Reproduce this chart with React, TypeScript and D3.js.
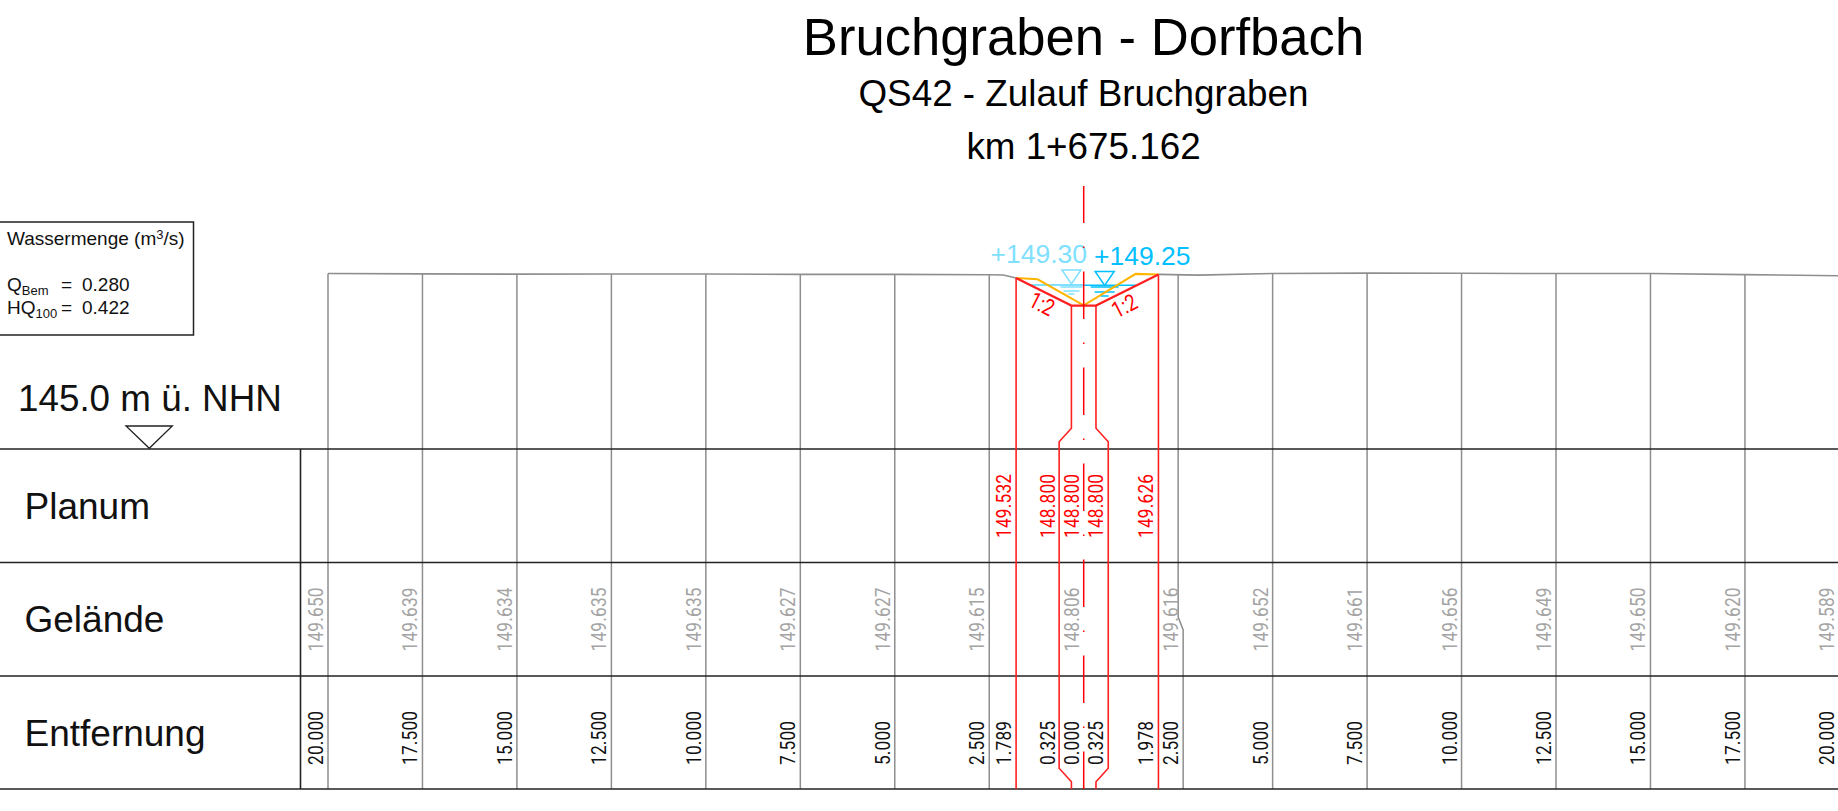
import React from "react";
import * as d3 from "d3";

// stations (m from axis) and terrain heights read from the Gelände row
const leftStations = [-20, -17.5, -15, -12.5, -10, -7.5, -5, -2.5];
const rightStations = [2.5, 5, 7.5, 10, 12.5, 15, 17.5, 20];
const leftGround = [149.65, 149.639, 149.634, 149.635, 149.635, 149.627, 149.627, 149.615];
const rightGround = [149.616, 149.652, 149.661, 149.656, 149.649, 149.65, 149.62, 149.589];

// extra terrain break points next to the ditch
const groundBreakLeft: [number, number][] = [[-2.13, 149.609], [-1.789, 149.532]];
const groundBreakRight: [number, number][] = [[1.978, 149.626], [3.03, 149.606]];

// existing ditch (orange)
const existing: [number, number][] = [[-1.789, 149.532], [-1.22, 149.495], [0, 148.806], [1.377, 149.64], [1.978, 149.626]];
// planned ditch (red)
const planned: [number, number][] = [[-1.789, 149.532], [-0.325, 148.8], [0.325, 148.8], [1.978, 149.626]];

const planStations = [-1.789, -0.325, 0, 0.325, 1.978];
const planHeights = ["149.532", "148.800", "148.800", "148.800", "149.626"];
const distDesign = ["1.789", "0.325", "0.000", "0.325", "1.978"];
const middleGroundLabel = "148.806";

const trenchHalf = 0.325;
const flareHalf = 0.65;

const waterLeft = { label: "+149.30", level: 149.345, from: -1.42, to: 0, mark: -0.325 };
const waterRight = { label: "+149.25", level: 149.34, from: 0, to: 1.41, mark: 0.555 };

const rowLabels = ["Planum", "Gelände", "Entfernung"];

const x = d3.scaleLinear().domain([-20, 20]).range([328, 1839.4]);
const y = d3.scaleLinear().domain([145, 149.65]).range([449, 273.5]);
const line = d3.line<[number, number]>().x(d => x(d[0])).y(d => y(d[1]));

const rowTop = [449, 562.5, 676, 789];
const labelNudge = [-4.7, -16.4, -4.7, 7.3, -5];
const FONT = "'Liberation Sans', Arial, sans-serif";
const RED = "#ff2020";
const GREY = "#8e8e8e";
const LIGHT = "#7fe0ff";
const BLUE = "#00c0ff";
const SX = 0.82;

function CadText(props: { x: number; y: number; fill: string; text: string }) {
  const len = (props.text.length * 10 - 6) / SX;
  return (
    <text
      transform={`translate(${props.x},${props.y}) rotate(-90) scale(${SX},1)`}
      fontFamily="Roboto, sans-serif"
      fontSize={21}
      textLength={len}
      lengthAdjust="spacing"
      fill={props.fill}
    >
      {props.text}
    </text>
  );
}

function WaterMark(props: { cx: number; apex: number; color: string; rows: number[][] }) {
  const { cx, apex, color, rows } = props;
  const tri = d3.path();
  tri.moveTo(cx - 9.5, apex - 14);
  tri.lineTo(cx + 9.5, apex - 14);
  tri.lineTo(cx, apex);
  tri.closePath();
  return (
    <g stroke={color} fill="none" strokeWidth={1.5}>
      <path d={tri.toString()} />
      {rows.map((r, i) => (
        <line key={i} x1={cx - r[1]} x2={cx + r[1]} y1={apex + r[0]} y2={apex + r[0]} />
      ))}
    </g>
  );
}

export default function App() {
  const groundPath = line([
    ...leftStations.map((s, i) => [s, leftGround[i]] as [number, number]),
    ...groundBreakLeft,
  ]);
  const groundPathR = line([
    ...groundBreakRight,
    ...rightStations.slice(1).map((s, i) => [s, rightGround[i + 1]] as [number, number]),
  ]);

  const trench = (sign: number) => {
    const a = x(sign * trenchHalf);
    const b = x(sign * flareHalf);
    return `M${a},${y(148.8)}V428.3L${b},441.7V768.3L${a},781.7V789`;
  };

  return (
    <svg
      width={1838}
      height={811}
      style={{ position: "absolute", left: 0, top: 0, background: "#fff" }}
    >
      {/* title block */}
      <g fontFamily={FONT} fill="#000" textAnchor="middle">
        <text x={1083.5} y={54.5} fontSize={52.6}>Bruchgraben - Dorfbach</text>
        <text x={1083.5} y={106} fontSize={36.8}>QS42 - Zulauf Bruchgraben</text>
        <text x={1083.5} y={159} fontSize={36.8}>km 1+675.162</text>
      </g>

      {/* discharge box */}
      <rect x={-2} y={222} width={195.5} height={113} fill="#fff" stroke="#222" strokeWidth={1.5} />
      <g fontFamily={FONT} fontSize={19} fill="#111">
        <text x={7} y={245}>Wassermenge (m<tspan dy={-6} fontSize={13}>3</tspan><tspan dy={6}>/s)</tspan></text>
        <text x={7} y={291}>Q<tspan dy={4} fontSize={13}>Bem</tspan></text>
        <text x={61} y={291}>=</text>
        <text x={82} y={291}>0.280</text>
        <text x={7} y={314}>HQ<tspan dy={4} fontSize={13}>100</tspan></text>
        <text x={61} y={314}>=</text>
        <text x={82} y={314}>0.422</text>
      </g>

      {/* datum */}
      <text x={18} y={411} fontFamily={FONT} fontSize={36.8} fill="#111">145.0 m ü. NHN</text>
      <path d="M126,426H172.3L149.3,448.3Z" fill="none" stroke="#222" strokeWidth={1.3} />

      {/* station grid */}
      <g stroke={GREY} strokeWidth={1.5} fill="none">
        {leftStations.map((s, i) => (
          <line key={s} x1={x(s)} x2={x(s)} y1={y(leftGround[i])} y2={789} />
        ))}
        {rightStations.map((s, i) =>
          i === 0 ? (
            <path key={s} d={`M${x(s)},${y(rightGround[i])}V617L${x(s) + 5},630V789`} />
          ) : (
            <line key={s} x1={x(s)} x2={x(s)} y1={y(rightGround[i])} y2={789} />
          )
        )}
        <path d={groundPath || ""} strokeWidth={1.6} />
        <path d={groundPathR || ""} strokeWidth={1.6} />
      </g>

      {/* band table */}
      <g stroke="#222" strokeWidth={1.6}>
        {rowTop.map(t => (
          <line key={t} x1={0} x2={1838} y1={t} y2={t} />
        ))}
        <line x1={300.5} x2={300.5} y1={449} y2={789} />
      </g>
      <g fontFamily={FONT} fontSize={37} fill="#111">
        {rowLabels.map((l, i) => (
          <text key={l} x={24.5} y={rowTop[i] + 69.5}>{l}</text>
        ))}
      </g>

      {/* water levels */}
      <line x1={x(waterLeft.from)} x2={x(waterLeft.to)} y1={y(waterLeft.level)} y2={y(waterLeft.level)} stroke={LIGHT} strokeWidth={1.8} />
      <line x1={x(waterRight.from)} x2={x(waterRight.to)} y1={y(waterRight.level)} y2={y(waterRight.level)} stroke={BLUE} strokeWidth={1.6} />
      <WaterMark cx={x(waterLeft.mark)} apex={284} color={LIGHT} rows={[[3, 11], [7, 8], [10, 3]]} />
      <WaterMark cx={x(waterRight.mark)} apex={285.5} color={BLUE} rows={[[1.5, 14], [6.5, 10], [10.5, 4]]} />
      <g fontFamily={FONT} fontSize={26.5}>
        <text x={990.5} y={263} fill={LIGHT}>{waterLeft.label}</text>
        <text x={1094} y={265} fill={BLUE}>{waterRight.label}</text>
      </g>

      {/* existing and planned section */}
      <path d={line(existing) || ""} fill="none" stroke="#ffb400" strokeWidth={2} />
      <path d={line(planned) || ""} fill="none" stroke={RED} strokeWidth={2.2} />
      <g stroke={RED} strokeWidth={1.6} fill="none">
        <line x1={x(-1.789)} x2={x(-1.789)} y1={y(149.532)} y2={789} />
        <line x1={x(1.978)} x2={x(1.978)} y1={y(149.626)} y2={789} />
        <path d={trench(-1)} />
        <path d={trench(1)} />
      </g>
      <line
        x1={x(0)}
        x2={x(0)}
        y1={186}
        y2={789}
        stroke="#ff0000"
        strokeWidth={1.5}
        strokeDasharray="47.5 23.5 1.5 23.5"
        strokeDashoffset={10.5}
      />
      <g fontFamily="Roboto, sans-serif" fontSize={23} fill="#ff0000" textAnchor="middle">
        <text transform={`translate(${x(-1.2)},311) rotate(27) scale(0.8,1)`}>1:2</text>
        <text transform={`translate(${x(1.17)},313) rotate(-27) scale(0.8,1)`}>1:2</text>
      </g>

      {/* Planum row */}
      {planStations.map((s, i) => (
        <CadText key={s} x={x(s) + labelNudge[i]} y={538} fill="#ff0000" text={planHeights[i]} />
      ))}

      {/* Gelände row */}
      {leftStations.map((s, i) => (
        <CadText key={s} x={x(s) - 5} y={651.5} fill="#a4a4a4" text={leftGround[i].toFixed(3)} />
      ))}
      <CadText x={x(0) - 5} y={651.5} fill="#a4a4a4" text={middleGroundLabel} />
      {rightStations.map((s, i) => (
        <CadText key={s} x={i === 0 ? x(s) : x(s) - 5} y={651.5} fill="#a4a4a4" text={rightGround[i].toFixed(3)} />
      ))}

      {/* Entfernung row */}
      {leftStations.map(s => (
        <CadText key={s} x={x(s) - 5} y={765} fill="#111" text={Math.abs(s).toFixed(3)} />
      ))}
      {planStations.map((s, i) => (
        <CadText key={s} x={x(s) + labelNudge[i]} y={765} fill="#111" text={distDesign[i]} />
      ))}
      {rightStations.map((s, i) => (
        <CadText key={s} x={i === 0 ? x(s) : x(s) - 5} y={765} fill="#111" text={s.toFixed(3)} />
      ))}
    </svg>
  );
}
